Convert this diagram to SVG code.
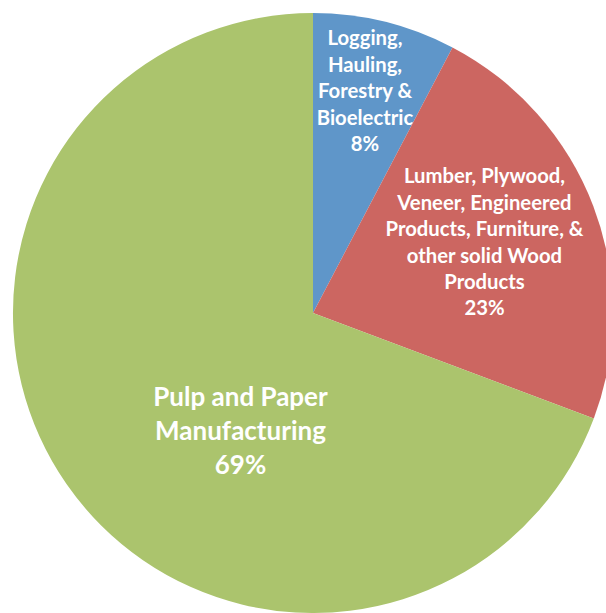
<svg xmlns="http://www.w3.org/2000/svg" width="606" height="613" viewBox="0 0 606 613">
<style>
.lbl{font-family:Lato,"Liberation Sans",sans-serif;font-weight:bold;fill:#fff;text-anchor:middle}
.s{font-size:20.3px}
.b{font-size:26px}
</style>
<rect width="606" height="613" fill="#fff"/>
<g id="slice-logging">
<path d="M313,313 L313,13 A300,300 0 0 1 452.5,47.4 Z" fill="#5F96C9"/>
<text class="lbl s"><tspan x="365" y="45">Logging,</tspan><tspan x="365" y="71.5">Hauling,</tspan><tspan x="365" y="98">Forestry &amp;</tspan><tspan x="365" y="124.5">Bioelectric</tspan><tspan x="365" y="151">8%</tspan></text>
</g>
<g id="slice-lumber">
<path d="M313,313 L452.5,47.4 A300,300 0 0 1 593.8,418.5 Z" fill="#CC6661"/>
<text class="lbl s"><tspan x="484.5" y="183">Lumber, Plywood,</tspan><tspan x="484.5" y="209.5">Veneer, Engineered</tspan><tspan x="484.5" y="236">Products, Furniture, &amp;</tspan><tspan x="484.5" y="262.5">other solid Wood</tspan><tspan x="484.5" y="289">Products</tspan><tspan x="484.5" y="315">23%</tspan></text>
</g>
<g id="slice-pulp">
<path d="M313,313 L593.8,418.5 A300,300 0 1 1 313,13 Z" fill="#ABC46D"/>
<text class="lbl b"><tspan x="240.5" y="406">Pulp and Paper</tspan><tspan x="240.5" y="440">Manufacturing</tspan><tspan x="240.5" y="474">69%</tspan></text>
</g>
<g id="connectors"></g>
</svg>
